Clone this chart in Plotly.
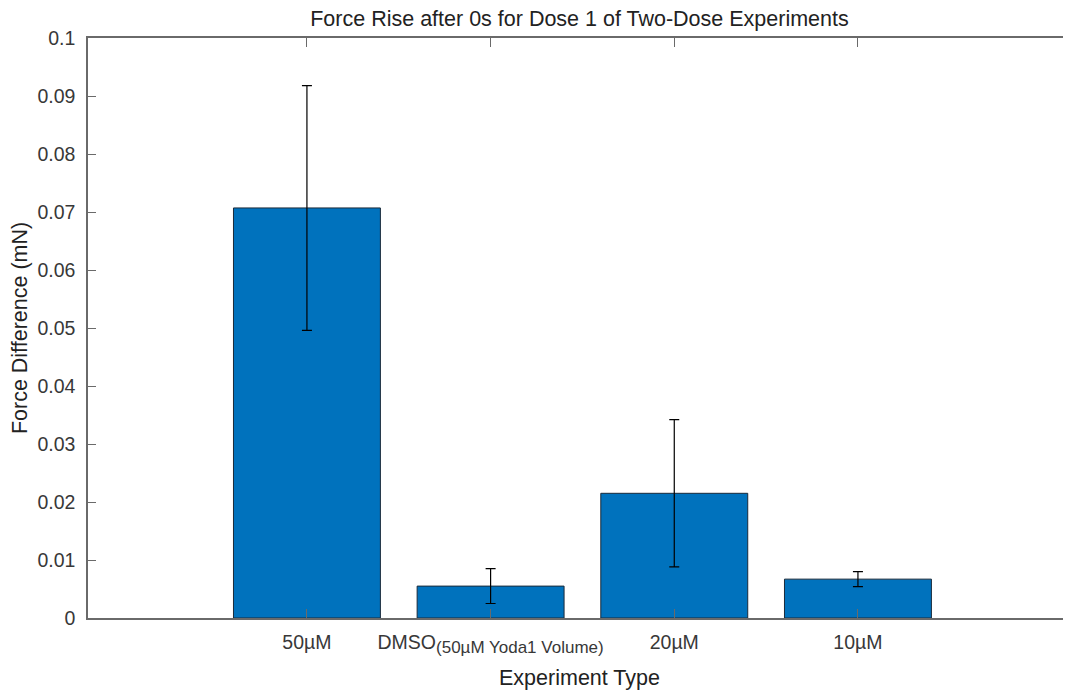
import plotly.graph_objects as go

categories = ["50µM", "DMSO<sub><span style=\"font-size:17px\">(50µM Yoda1 Volume)</span></sub>", "20µM", "10µM"]
values = [0.0707, 0.0055, 0.0215, 0.0067]
errors = [0.0211, 0.0030, 0.0127, 0.0013]
ytick_vals = [0, 0.01, 0.02, 0.03, 0.04, 0.05, 0.06, 0.07, 0.08, 0.09, 0.1]
ytick_text = ["0", "0.01", "0.02", "0.03", "0.04", "0.05", "0.06", "0.07", "0.08", "0.09", "0.1"]

axis_color = "#6a6a6a"
text_color = "#383838"
font_family = "Liberation Sans, Arial, sans-serif"

fig = go.Figure()
fig.add_trace(go.Bar(
    x=categories, y=values, width=0.8,
    marker=dict(color="#0072BD", line=dict(color="#1a2a3a", width=1)),
    error_y=dict(type="data", array=errors, visible=True, color="black", thickness=1.2, width=5),
    showlegend=False,
))
# invisible trace to host right-side mirrored ticks
fig.add_trace(go.Scatter(x=categories, y=values, yaxis="y2", mode="markers",
                         marker=dict(opacity=0, size=1), showlegend=False, hoverinfo="skip"))

# page body has an 8px default margin, so the figure is offset by 8px
fig.update_layout(
    width=1063, height=682,
    margin=dict(l=80, r=0, t=30, b=72, autoexpand=False),
    paper_bgcolor="white", plot_bgcolor="white",
    font=dict(family=font_family, size=19.5, color=text_color),
    title=dict(text="Force Rise after 0s for Dose 1 of Two-Dose Experiments",
               x=0.5, xref="paper", xanchor="center", y=0.984, yref="container", yanchor="middle",
               font=dict(size=21.5, color="#222222")),
    xaxis=dict(
        type="category", range=[-1.192, 4.16], automargin=False,
        showline=True, linecolor=axis_color, linewidth=1.5, mirror="ticks",
        ticks="inside", ticklen=9, tickcolor=axis_color, tickwidth=1,
        showgrid=False, zeroline=False, ticklabelstandoff=6,
        title=dict(text="Experiment Type", font=dict(size=21.5, color="#222222"), standoff=15),
        tickfont=dict(size=19.5, color=text_color),
    ),
    yaxis=dict(
        range=[0, 0.1], tickvals=ytick_vals, ticktext=ytick_text, automargin=False,
        showline=True, linecolor=axis_color, linewidth=1.5,
        ticks="inside", ticklen=8, tickcolor=axis_color, tickwidth=1,
        showgrid=False, zeroline=False, ticklabelstandoff=7,
        title=dict(text="Force Difference (mN)", font=dict(size=21.5, color="#222222"), standoff=6),
        tickfont=dict(size=19.5, color=text_color),
    ),
    yaxis2=dict(
        overlaying="y", side="right", range=[0, 0.1], tickvals=ytick_vals, automargin=False,
        showticklabels=False, showline=False, ticks="inside", ticklen=6,
        tickcolor=axis_color, showgrid=False, zeroline=False,
    ),
)

fig.write_html("out.html")
